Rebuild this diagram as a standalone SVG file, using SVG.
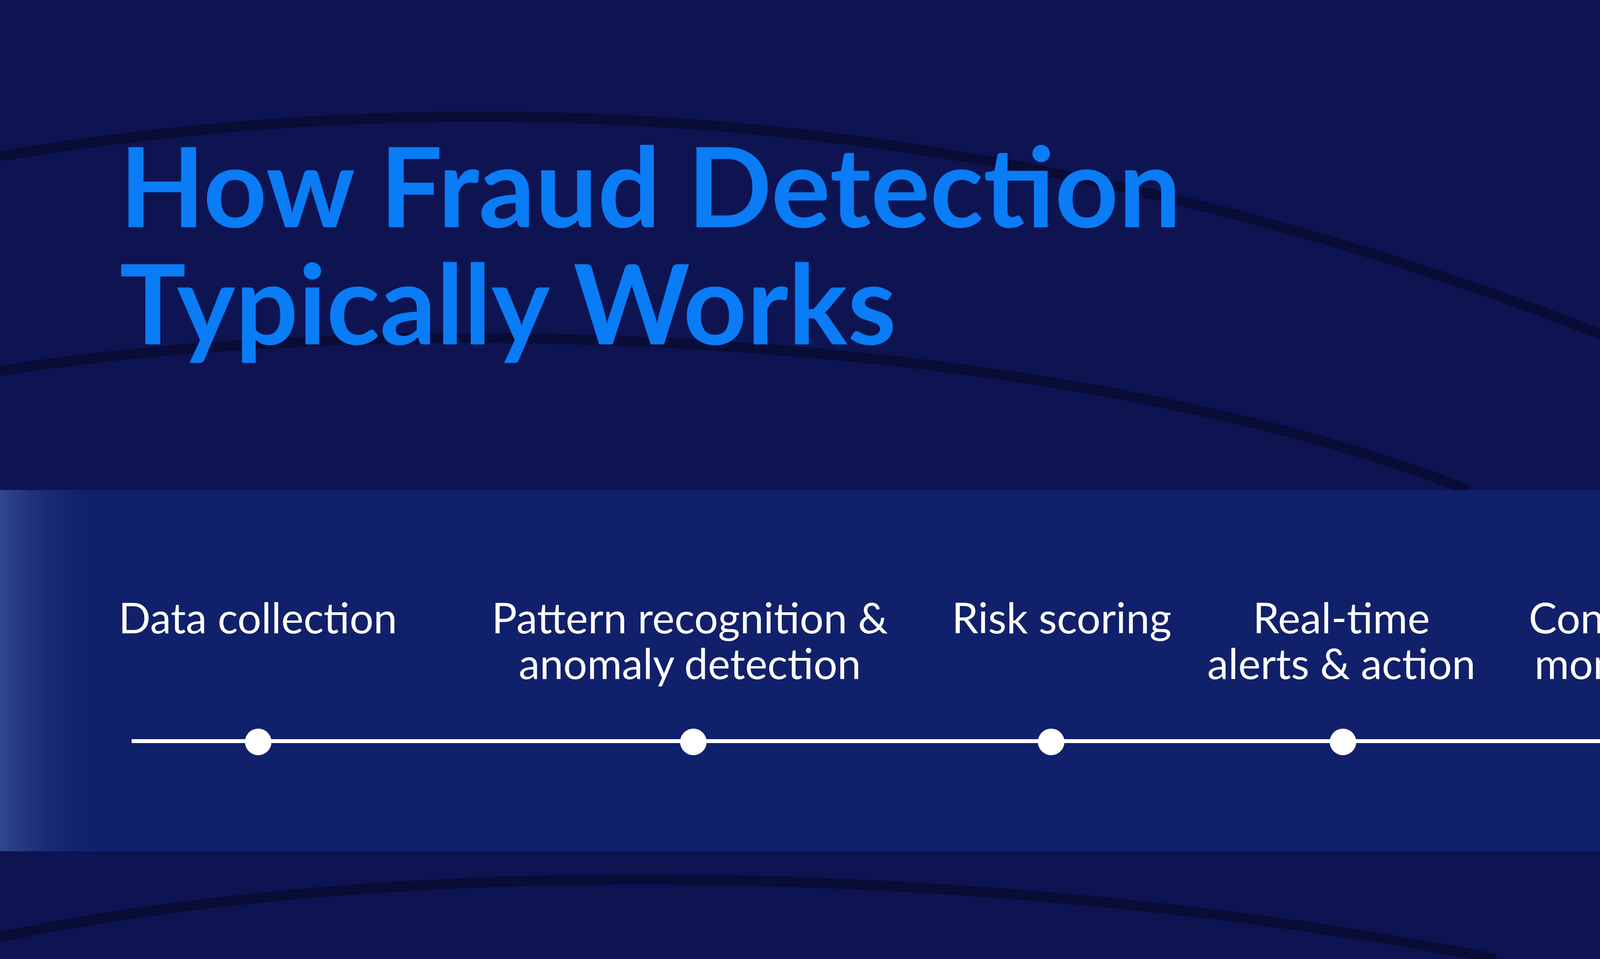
<svg xmlns="http://www.w3.org/2000/svg" width="4800" height="2456" viewBox="0 0 4800 2456">
<style>
.arc{fill:none;stroke:#080c36;stroke-width:26}
.lbl{font-family:Lato,"Liberation Sans",sans-serif;font-size:108px;fill:#ffffff;text-anchor:middle}
.title{font-family:Lato,"Liberation Sans",sans-serif;font-weight:bold;font-size:284px;fill:#0a7cf5}
.dot{fill:#ffffff}
</style>
<defs>
<linearGradient id="lg" x1="0" y1="0" x2="1" y2="0">
<stop offset="0" stop-color="#3a5296" stop-opacity="0.8"/>
<stop offset="1" stop-color="#11206a" stop-opacity="0"/>
</linearGradient>
</defs>
<rect width="4800" height="2456" fill="#0e1452"/>
<path class="arc" d="M0,400 C1200,200 2900,220 4800,1170"/>
<path class="arc" d="M0,950 C1000,790 2700,840 3760,1255"/>
<path class="arc" d="M4400,0 C4550,40 4700,90 4800,140"/>
<path class="arc" d="M0,2400 C1200,2150 2800,2250 3830,2456"/>
<rect x="0" y="1255" width="4800" height="925" fill="#11206a"/>
<rect x="0" y="1255" width="260" height="925" fill="url(#lg)"/>
<g id="title">
<text class="title" x="306" y="582">How Fraud Detection</text>
<text class="title" x="306" y="882">Typically Works</text>
</g>
<g id="connectors">
<line x1="337" y1="1898" x2="4393" y2="1898" stroke="#ffffff" stroke-width="10"/>
</g>
<g id="n1"><circle class="dot" cx="661" cy="1900" r="34"/><text class="lbl" x="660" y="1622">Data collection</text></g>
<g id="n2"><circle class="dot" cx="1775" cy="1900" r="34"/><text class="lbl" x="1766" y="1622">Pattern recognition &amp;</text><text class="lbl" x="1766" y="1739">anomaly detection</text></g>
<g id="n3"><circle class="dot" cx="2691" cy="1900" r="34"/><text class="lbl" x="2718" y="1622">Risk scoring</text></g>
<g id="n4"><circle class="dot" cx="3438" cy="1900" r="34"/><text class="lbl" x="3434" y="1622">Real-time</text><text class="lbl" x="3434" y="1739">alerts &amp; action</text></g>
<g id="n5"><circle class="dot" cx="4200" cy="1900" r="34"/><text class="lbl" x="4187" y="1622">Continuous</text><text class="lbl" x="4187" y="1739">monitoring</text></g>
</svg>
